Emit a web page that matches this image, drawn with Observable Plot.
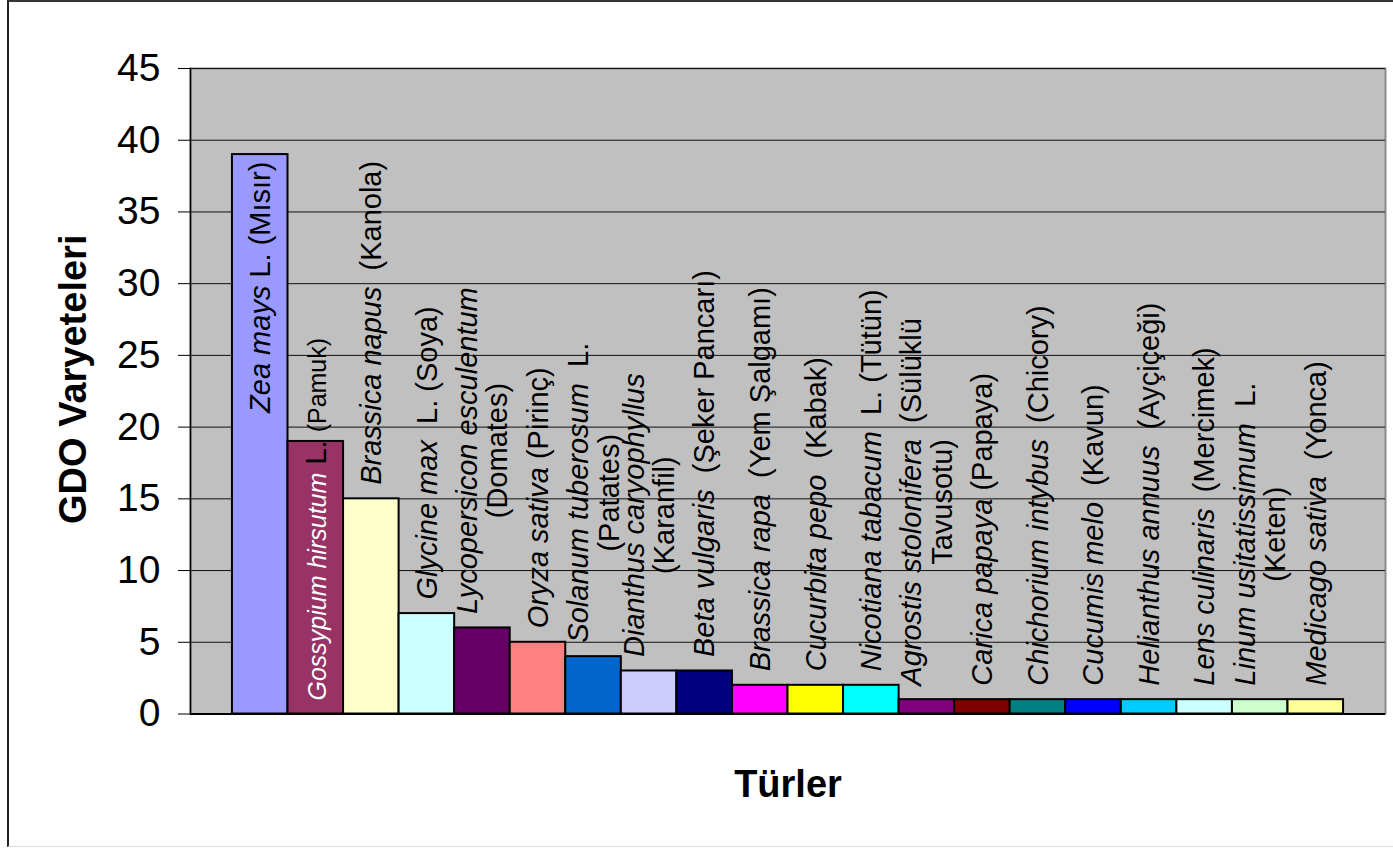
<!DOCTYPE html>
<html><head><meta charset="utf-8">
<script src="https://cdn.jsdelivr.net/npm/d3@7"></script>
<script src="https://cdn.jsdelivr.net/npm/@observablehq/plot@0.6"></script>
<style>
html,body{margin:0;padding:0;background:#fff;}
#wrap{position:relative;width:1393px;height:848px;overflow:hidden;}
#border{position:absolute;left:7px;top:0;width:1400px;height:847px;border-left:2px solid #222;border-top:2px solid #333;border-bottom:1px solid #ddd;box-sizing:border-box;}
#chart{position:absolute;left:0;top:0;}
#chart text{white-space:pre;}
</style></head><body><div id="wrap"><div id="border"></div><div id="chart"></div></div>
<script>
const species = ["Zea mays","Gossypium hirsutum","Brassica napus","Glycine max","Lycopersicon esculentum","Oryza sativa","Solanum tuberosum","Dianthus caryophyllus","Beta vulgaris","Brassica rapa","Cucurbita pepo","Nicotiana tabacum","Agrostis stolonifera","Carica papaya","Chichorium intybus","Cucumis melo","Helianthus annuus","Lens culinaris","Linum usitatissimum","Medicago sativa"];
const labels = [
 "Zea mays L. (Mısır)",
 "Gossypium hirsutum L. (Pamuk)",
 "Brassica napus  (Kanola)",
 "Glycine max  L. (Soya)",
 "Lycopersicon esculentum\n(Domates)",
 "Oryza sativa (Pirinç)",
 "Solanum tuberosum  L.\n(Patates)",
 "Dianthus caryophyllus\n(Karanfil)",
 "Beta vulgaris  (Şeker Pancarı)",
 "Brassica rapa  (Yem Şalgamı)",
 "Cucurbita pepo  (Kabak)",
 "Nicotiana tabacum  L. (Tütün)",
 "Agrostis stolonifera  (Sülüklü\nTavusotu)",
 "Carica papaya (Papaya)",
 "Chichorium intybus  (Chicory)",
 "Cucumis melo  (Kavun)",
 "Helianthus annuus  (Ayçiçeği)",
 "Lens culinaris  (Mercimek)",
 "Linum usitatissimum  L.\n(Keten)",
 "Medicago sativa  (Yonca)"
];
const counts = [39,19,15,7,6,5,4,3,3,2,2,2,1,1,1,1,1,1,1,1];
const colors = ["#9999FF","#993366","#FFFFCC","#CCFFFF","#660066","#FF8080","#0066CC","#CCCCFF","#000080","#FF00FF","#FFFF00","#00FFFF","#800080","#800000","#008080","#0000FF","#00CCFF","#CCFFFF","#CCFFCC","#FFFF99"];
const yTicks = [0,5,10,15,20,25,30,35,40,45];
const yTitle = "GDO Varyeteleri";
const xTitle = "Türler";

const FONT = '"Liberation Sans", Arial, Helvetica, sans-serif';
const W = 1393, H = 848, mL = 190, mR = 8, mT = 68, mB = 134.5;
const LS = 29;

const ctx = document.createElement("canvas").getContext("2d");
function runsFor(i, line, inside) {
  const runs = [];
  let rest = line;
  if (line.startsWith(species[i])) {
    runs.push({t: species[i], italic: true, size: inside ? 25 : LS, fill: inside ? "#fff" : "#000"});
    rest = line.slice(species[i].length);
  }
  if (rest) {
    const k = rest.indexOf("(");
    if (inside && k > 0) {
      runs.push({t: rest.slice(0, k), size: LS, fill: "#000"});
      runs.push({t: rest.slice(k), size: 25, fill: "#000"});
    } else runs.push({t: rest, size: LS, fill: "#000"});
  }
  return runs;
}
function measure(runs) {
  return d3.sum(runs, r => { ctx.font = `${r.italic ? "italic " : ""}${r.size}px ${FONT}`; return ctx.measureText(r.t).width; });
}

const yS = Plot.scale({y: {domain: [0, 45], range: [H - mB, mT]}});
const place = labels.map((lab, i) => {
  const lines = lab.split("\n");
  const top = yS.apply(counts[i]), base = yS.apply(0);
  let len = d3.max(lines, l => measure(runsFor(i, l, false)));
  if (top - 14 - len >= mT) return {mode: "out", y: counts[i], dy: -(14 + len / 2)};
  if (base - top >= len + 14) return {mode: "end", y: counts[i], dy: 7 + len / 2};
  len = d3.max(lines, l => measure(runsFor(i, l, true)));
  return {mode: "base", y: 0, dy: -(13.5 + len / 2)};
});

const idx = counts.map((c, i) => i);
const labelMarks = idx.map(i => Plot.text([i], {
  x: d => species[d], y: d => place[d].y, text: d => labels[d],
  rotate: -90, textAnchor: "middle", lineAnchor: "middle", lineHeight: 1.05,
  fontSize: LS, fill: "#000", dy: place[i].dy
}));

const chart = Plot.plot({
  width: W, height: H,
  marginLeft: mL, marginRight: mR, marginTop: mT, marginBottom: mB,
  style: {fontFamily: FONT, background: "transparent", overflow: "visible", color: "#000"},
  x: {domain: species, paddingInner: 0, paddingOuter: 0.755, round: false, axis: null},
  y: {domain: [0, 45]},
  color: {type: "identity"},
  marks: [
    Plot.frame({fill: "#C0C0C0", stroke: "#8a8a8a", strokeWidth: 2}),
    Plot.gridY({ticks: yTicks, stroke: "#111", strokeOpacity: 1, strokeWidth: 1}),
    Plot.barY(idx, {x: i => species[i], y: i => counts[i], fill: i => colors[i], stroke: "#000", strokeWidth: 2}),
    Plot.frame({anchor: "left", stroke: "#000", strokeWidth: 1.5}),
    Plot.ruleY([0], {stroke: "#000", strokeWidth: 2}),
    Plot.axisY({ticks: yTicks, tickSize: 12, tickPadding: 18, fontSize: 39, label: null, stroke: "#000"}),
    Plot.text([yTitle], {frameAnchor: "left", textAnchor: "middle", dx: -117, dy: -12, rotate: -90, fontSize: 38, fontWeight: "bold", lineAnchor: "middle", fill: "#000"}),
    Plot.text([xTitle], {frameAnchor: "bottom", dy: 71, fontSize: 38, fontWeight: "bold", lineAnchor: "middle", fill: "#000"}),
    ...labelMarks
  ]
});
document.getElementById("chart").appendChild(chart);

// style runs (italic scientific names) inside each label
const flat = labels.map(l => l.replace(/\n/g, ""));
chart.querySelectorAll("text").forEach(text => {
  const i = flat.indexOf(text.textContent);
  if (i < 0) return;
  const inside = place[i].mode === "base";
  text.setAttribute("xml:space", "preserve");
  const tsp = Array.from(text.children).filter(e => e.tagName.toLowerCase() === "tspan");
  const containers = tsp.length ? tsp : [text];
  containers.forEach(c => {
    const line = c.textContent;
    while (c.firstChild) c.removeChild(c.firstChild);
    runsFor(i, line, inside).forEach(r => {
      const s = document.createElementNS("http://www.w3.org/2000/svg", "tspan");
      s.textContent = r.t;
      if (r.italic) s.setAttribute("font-style", "italic");
      if (r.size !== LS) s.setAttribute("font-size", r.size);
      s.setAttribute("fill", r.fill);
      c.appendChild(s);
    });
  });
});
</script></body></html>
